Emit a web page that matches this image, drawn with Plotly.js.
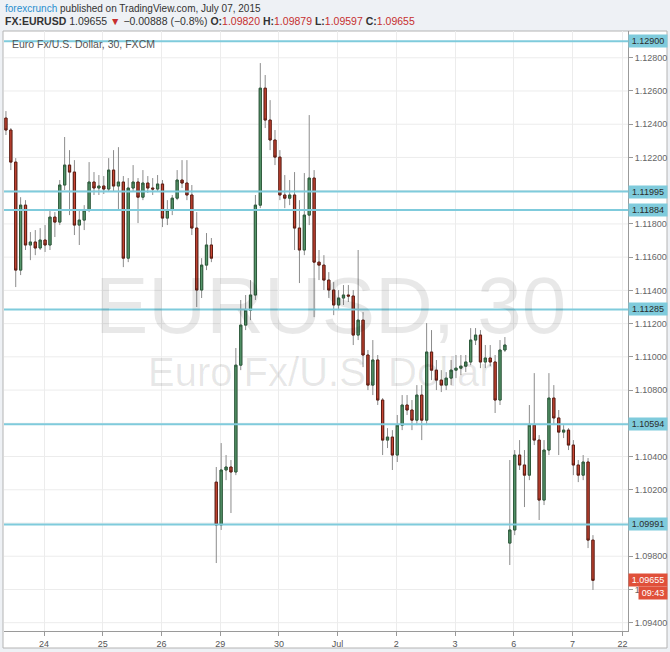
<!DOCTYPE html>
<html>
<head>
<meta charset="utf-8">
<script src="https://cdn.plot.ly/plotly-3.0.1.min.js"></script>
<style>
  html, body { margin: 0; padding: 0; background: #eef1f5; }
  #chart { width: 670px; height: 652px; }
</style>
</head>
<body>
<div id="chart"></div>
<script>
// ---- Data (EURUSD, one bar per ~2 hours of the 30-min chart) ----
const barStart = -0.65;      // trading-day index of first bar (0 = 24 Jun)
const barStep = 1 / 12;      // 2 hours in trading days

const openPx = [
  1.12437,1.12365,1.12172,1.11522,1.11913,1.11673,1.11691,1.11655,1.11703,1.11673,
  1.11841,1.11811,1.12034,1.12154,1.12112,1.11793,1.11823,1.11883,1.12052,1.12016,
  1.12028,1.12010,1.12124,1.12028,1.12052,1.11594,1.12016,1.12052,1.11961,1.12046,
  1.12016,1.12010,1.12040,1.11835,1.11883,1.11955,1.12064,1.12046,1.11974,1.11775,
  1.11402,1.11552,1.11673,1.10246,1.09988,1.10319,1.10337,1.10307,1.10950,1.11191,
  1.11281,1.11372,1.11913,1.12617,1.12425,1.12305,1.12202,1.11974,1.11955,1.11974,
  1.11775,1.11643,1.11853,1.12076,1.11570,1.11552,1.11462,1.11402,1.11312,1.11354,
  1.11372,1.11366,1.11131,1.11221,1.11011,1.10830,1.10981,1.10740,1.10499,1.10517,
  1.10409,1.10589,1.10710,1.10680,1.10619,1.10770,1.10619,1.11029,1.10920,1.10860,
  1.10830,1.10872,1.10920,1.10932,1.10944,1.10969,1.11101,1.11131,1.10969,1.10993,
  1.10969,1.10740,1.11041,1.09879,1.09958,1.10409,1.10349,1.10288,1.10589,1.10499,
  1.10138,1.10439,1.10752,1.10632,1.10547,1.10559,1.10469,1.10349,1.10288,1.10367,
  1.09897
];
const highPx = [
  1.12479,1.12377,1.12196,1.11961,1.11943,1.11751,1.11763,1.11775,1.11793,1.11883,
  1.11871,1.12064,1.12323,1.12244,1.12184,1.11883,1.11913,1.12172,1.12112,1.12094,
  1.12088,1.12196,1.12244,1.12262,1.12088,1.12076,1.12154,1.12076,1.12124,1.12088,
  1.12076,1.12094,1.12064,1.11943,1.11974,1.12124,1.12184,1.12184,1.12034,1.11871,
  1.11594,1.11745,1.11715,1.10337,1.10481,1.10409,1.10379,1.11053,1.11342,1.11372,
  1.11462,1.11974,1.12768,1.12696,1.12545,1.12365,1.12244,1.12094,1.12064,1.12112,
  1.11943,1.12106,1.12455,1.12124,1.11643,1.11612,1.11510,1.11450,1.11402,1.11432,
  1.11432,1.11402,1.11643,1.11269,1.11041,1.11101,1.11011,1.10752,1.10571,1.10559,
  1.10650,1.10770,1.10770,1.10740,1.10830,1.10830,1.11203,1.11161,1.10981,1.10920,
  1.10908,1.10981,1.11011,1.11011,1.11011,1.11173,1.11173,1.11161,1.11071,1.11071,
  1.11011,1.11101,1.11119,1.10379,1.10439,1.10499,1.10439,1.10710,1.10902,1.10529,
  1.10499,1.10902,1.10830,1.10680,1.10589,1.10571,1.10499,1.10379,1.10409,1.10391,
  1.09927
];
const lowPx = [
  1.12335,1.12124,1.11420,1.11492,1.11643,1.11582,1.11612,1.11643,1.11631,1.11643,
  1.11721,1.11793,1.12004,1.11853,1.11733,1.11673,1.11763,1.11871,1.11974,1.11974,
  1.11980,1.11992,1.11992,1.11883,1.11540,1.11570,1.11992,1.11805,1.11943,1.11986,
  1.11974,1.11992,1.11781,1.11793,1.11853,1.11943,1.12016,1.11943,1.11733,1.11300,
  1.11354,1.11522,1.11570,1.09759,1.09958,1.10258,1.10060,1.10288,1.10920,1.11161,
  1.11221,1.11342,1.11895,1.12377,1.12244,1.12154,1.11943,1.11895,1.11913,1.11643,
  1.11444,1.11612,1.11793,1.11239,1.11462,1.11402,1.11354,1.11251,1.11281,1.11312,
  1.11330,1.11071,1.11101,1.10938,1.10800,1.10770,1.10710,1.10409,1.10451,1.10319,
  1.10367,1.10559,1.10650,1.10559,1.10589,1.10499,1.10589,1.10860,1.10800,1.10788,
  1.10800,1.10830,1.10872,1.10890,1.10908,1.10950,1.11071,1.10932,1.10932,1.10944,
  1.10662,1.10710,1.11029,1.09747,1.09927,1.10319,1.10096,1.10258,1.10469,1.10018,
  1.10108,1.10409,1.10589,1.10409,1.10511,1.10439,1.10288,1.10246,1.10258,1.09849,
  1.09597
];
const closePx = [
  1.12365,1.12172,1.11522,1.11913,1.11673,1.11691,1.11655,1.11703,1.11673,1.11841,
  1.11811,1.12034,1.12154,1.12112,1.11793,1.11823,1.11883,1.12052,1.12016,1.12028,
  1.12010,1.12124,1.12028,1.12052,1.11594,1.12016,1.12052,1.11961,1.12046,1.12016,
  1.12010,1.12040,1.11835,1.11883,1.11955,1.12064,1.12046,1.11974,1.11775,1.11402,
  1.11552,1.11673,1.11594,1.09988,1.10319,1.10337,1.10307,1.10950,1.11191,1.11281,
  1.11372,1.11913,1.12617,1.12425,1.12305,1.12202,1.11974,1.11955,1.11974,1.11775,
  1.11643,1.11853,1.12076,1.11570,1.11552,1.11462,1.11402,1.11312,1.11354,1.11372,
  1.11366,1.11131,1.11221,1.11011,1.10830,1.10981,1.10740,1.10499,1.10517,1.10409,
  1.10589,1.10710,1.10680,1.10619,1.10770,1.10619,1.11029,1.10920,1.10860,1.10830,
  1.10872,1.10920,1.10932,1.10944,1.10969,1.11101,1.11131,1.10969,1.10993,1.10969,
  1.10740,1.11041,1.11071,1.09958,1.10409,1.10349,1.10288,1.10589,1.10499,1.10138,
  1.10439,1.10752,1.10632,1.10547,1.10559,1.10469,1.10349,1.10288,1.10367,1.09897,
  1.09655
];

// Day ticks on the time axis
const dayTickVals = [0, 1, 2, 3, 4, 5, 6, 7, 8, 9, 9.853];
const dayTickText = ['24', '25', '26', '29', '30', 'Jul', '2', '3', '6', '7', '22'];

// Price ticks whose labels are visible (the others sit under the level labels)
const priceTickVals = [1.094, 1.096, 1.098, 1.102, 1.104, 1.108, 1.110, 1.112,
                       1.114, 1.116, 1.118, 1.122, 1.124, 1.126, 1.128];
// Gridline levels (every 0.002)
const priceGridVals = [1.094, 1.096, 1.098, 1.100, 1.102, 1.104, 1.106, 1.108, 1.110,
                       1.112, 1.114, 1.116, 1.118, 1.120, 1.122, 1.124, 1.126, 1.128];

// Horizontal levels drawn on the chart
const levels = [1.12900, 1.11995, 1.11884, 1.11285, 1.10594, 1.09991];

// Header values
const lastPrice = 1.09655, change = '−0.00888', changePct = '−0.8%';
const ohlc = {O: '1.09820', H: '1.09879', L: '1.09597', C: '1.09655'};
const timer = '09:43';

// ---- Build ----
const FONT = '"Liberation Sans", Arial, sans-serif';
const barTimes = openPx.map((_, i) => barStart + i * barStep);
const bodyHigh = openPx.map((o, i) => Math.max(o, closePx[i]));
const bodyLow = openPx.map((o, i) => Math.min(o, closePx[i]));

const wickTrace = {
  type: 'candlestick', x: barTimes, open: openPx, high: highPx, low: lowPx, close: closePx,
  increasing: {line: {color: '#8c8c8c', width: 1}, fillcolor: '#56966b'},
  decreasing: {line: {color: '#8c8c8c', width: 1}, fillcolor: '#c94634'},
  hoverinfo: 'skip', showlegend: false
};
const bodyTrace = {
  type: 'candlestick', x: barTimes, open: openPx, high: bodyHigh, low: bodyLow, close: closePx,
  increasing: {line: {color: '#2c5a3a', width: 1}, fillcolor: '#56966b'},
  decreasing: {line: {color: '#5e1c12', width: 1}, fillcolor: '#c94634'},
  hoverinfo: 'skip', showlegend: false
};

// pixel helpers for paper-positioned decorations (plot area: x 4..628, y 31..631)
const PL = 4, PR = 628, PT = 31, PB = 631;
const px = v => (v - PL) / (PR - PL);
const py = v => (PB - v) / (PB - PT);

const shapes = [
  {type: 'rect', xref: 'paper', yref: 'paper', x0: px(3), x1: px(667), y0: py(648), y1: py(31),
   fillcolor: '#ffffff', line: {color: '#b4b4b4', width: 1}, layer: 'below'}
];
priceGridVals.forEach(v => shapes.push({
  type: 'line', xref: 'paper', yref: 'y', x0: 0, x1: 1, y0: v, y1: v,
  line: {color: '#ececec', width: 1}, layer: 'below'
}));
levels.forEach(v => shapes.push({
  type: 'line', xref: 'paper', yref: 'y', x0: 0, x1: 1, y0: v, y1: v,
  line: {color: '#7fcbdc', width: 2}, layer: 'above'
}));

const RED = '#c62f2f';
const annotations = [
  {xref: 'paper', yref: 'paper', x: px(3), y: py(8), xanchor: 'left', yanchor: 'middle', showarrow: false,
   text: '<span style="color:#2a8fcf">forexcrunch</span> published on TradingView.com, July 07, 2015',
   font: {family: FONT, size: 10, color: '#333'}},
  {xref: 'paper', yref: 'paper', x: px(3), y: py(21), xanchor: 'left', yanchor: 'middle', showarrow: false,
   text: '<b>FX:EURUSD</b> ' + lastPrice.toFixed(5) + ' <span style="color:' + RED + '">▼</span> ' + change +
         ' (' + changePct + ') ' +
         Object.keys(ohlc).map(k => '<b>' + k + ':</b><span style="color:' + RED + '">' + ohlc[k] + '</span>').join(' '),
   font: {family: FONT, size: 10.5, color: '#333'}},
  {xref: 'paper', yref: 'paper', x: px(10), y: py(44), xanchor: 'left', yanchor: 'middle', showarrow: false,
   text: 'Euro Fx/U.S. Dollar, 30, FXCM', font: {family: FONT, size: 10.5, color: '#555'}},
  {xref: 'paper', yref: 'paper', x: px(330), y: py(305), xanchor: 'center', yanchor: 'middle', showarrow: false,
   text: 'EURUSD, 30', font: {family: FONT, size: 80, color: 'rgba(0,0,0,0.09)'}},
  {xref: 'paper', yref: 'paper', x: px(320), y: py(372), xanchor: 'center', yanchor: 'middle', showarrow: false,
   text: 'Euro Fx/U.S. Dollar', font: {family: FONT, size: 40, color: 'rgba(0,0,0,0.09)'}}
];
levels.forEach(v => annotations.push({
  xref: 'paper', yref: 'y', x: 1, y: v, xanchor: 'left', yanchor: 'middle', showarrow: false,
  text: v.toFixed(5), bgcolor: '#7fcbdc', borderpad: 1, width: 36, align: 'center',
  font: {family: FONT, size: 9, color: '#2b2b2b'}
}));
annotations.push({
  xref: 'paper', yref: 'y', x: 1, y: lastPrice, xanchor: 'left', yanchor: 'middle', showarrow: false,
  text: lastPrice.toFixed(5), bgcolor: '#e0503a', borderpad: 1, width: 36, align: 'center',
  font: {family: FONT, size: 9, color: '#ffffff'}
});
annotations.push({
  xref: 'paper', yref: 'y', x: px(638), y: lastPrice, yshift: -13, xanchor: 'left', yanchor: 'middle', showarrow: false,
  text: timer, bgcolor: '#e0503a', borderpad: 1, width: 26, align: 'center',
  font: {family: FONT, size: 9, color: '#ffffff'}
});

const layout = {
  width: 670, height: 652,
  margin: {l: PL, r: 670 - PR, t: PT, b: 652 - PB, pad: 0},
  paper_bgcolor: '#eef1f5', plot_bgcolor: 'rgba(0,0,0,0)',
  showlegend: false, boxgap: 0.35,
  font: {family: FONT, size: 9, color: '#555'},
  xaxis: {
    range: [-0.683, 9.947], tickmode: 'array', tickvals: dayTickVals, ticktext: dayTickText,
    showgrid: true, gridcolor: '#ececec', gridwidth: 1, zeroline: false,
    showline: true, linecolor: '#9a9a9a', linewidth: 1,
    ticks: 'outside', ticklen: 4, tickcolor: '#9a9a9a',
    tickfont: {family: FONT, size: 9, color: '#555'},
    rangeslider: {visible: false}, fixedrange: true
  },
  yaxis: {
    side: 'right', range: [1.0935, 1.12961], tickmode: 'array', tickvals: priceTickVals, tickformat: '.5f',
    showgrid: false, zeroline: false,
    showline: true, linecolor: '#9a9a9a', linewidth: 1,
    ticks: 'outside', ticklen: 4, tickcolor: '#9a9a9a',
    tickfont: {family: FONT, size: 9, color: '#666'}, fixedrange: true
  },
  shapes: shapes,
  annotations: annotations
};

Plotly.newPlot('chart', [wickTrace, bodyTrace], layout, {staticPlot: true, displayModeBar: false});
</script>
</body>
</html>
